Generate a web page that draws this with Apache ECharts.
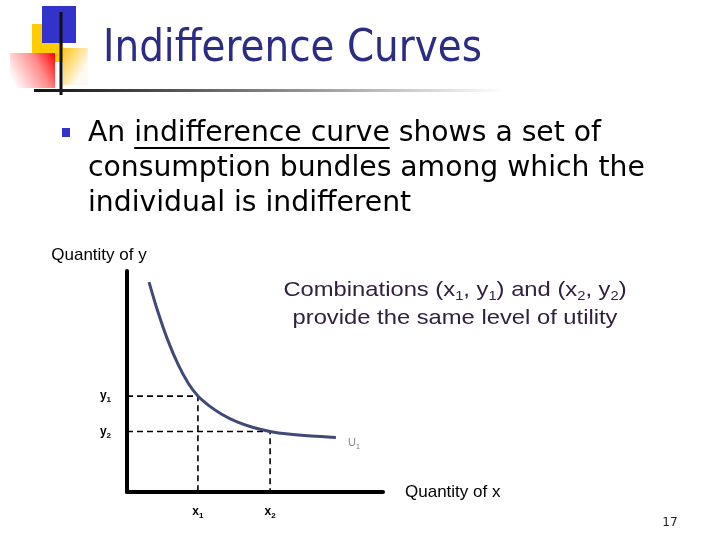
<!DOCTYPE html>
<html lang="en">
  <head>
    <meta charset="UTF-8" />
    <title>Indifference Curves</title>
    <script src="https://cdn.jsdelivr.net/npm/echarts@6.0.0/dist/echarts.min.js"></script>
    <style>
      body { margin: 0; background: #fff; }
    </style>
  </head>

  <body>
    <div id="main" style="width: 720px; height: 540px"></div>

    <script type="text/javascript">
      // points read along the indifference curve U1
      const curveX = [0.86, 1.2, 1.6, 2.0, 2.4, 2.77, 3.2, 3.7, 4.3, 4.9, 5.59, 6.3, 7.2, 8.16];
      const curveY = [9.5, 8.18, 6.85, 5.76, 4.91, 4.34, 3.91, 3.52, 3.17, 2.93, 2.74, 2.62, 2.53, 2.47];

      // the two bundles (x1, y1) and (x2, y2)
      const bundleX = [2.77, 5.59];
      const bundleY = [4.34, 2.74];
      const xTickLabels = ["x1", "x2"];
      const yTickLabels = ["y1", "y2"];

      const titleText = "Indifference Curves";
      const bulletLines = [
        "An indifference curve shows a set of",
        "consumption bundles among which the",
        "individual is indifferent",
      ];
      const noteLine2 = "provide the same level of utility";

      const FONT_T = '"DejaVu Sans", Verdana, sans-serif';
      const FONT_A = '"Liberation Sans", Arial, sans-serif';

      // measure text so the lines keep the slide's widths
      const ctx = document.createElement("canvas").getContext("2d");
      function textWidth(str, size, family) {
        ctx.font = size + "px " + family;
        return ctx.measureText(str).width;
      }
      const titleScale = 379 / textWidth(titleText, 44, FONT_T);
      const bulletScale = 513 / textWidth(bulletLines[0], 28, FONT_T);
      const noteScale = 325 / textWidth(noteLine2, 21, FONT_A);
      const ulStart = 88 + textWidth("An ", 28, FONT_T) * bulletScale;
      const ulEnd = ulStart + textWidth("indifference curve", 28, FONT_T) * bulletScale;

      // "x1" -> x with a subscript 1
      function subLabel(s) {
        return "{b|" + s.slice(0, -1) + "}{s|" + s.slice(-1) + "}";
      }
      const tickRich = {
        b: { fontSize: 12, fontWeight: "bold", fontFamily: FONT_A, color: "#000", lineHeight: 16 },
        s: { fontSize: 8, fontWeight: "bold", fontFamily: FONT_A, color: "#000", verticalAlign: "bottom", lineHeight: 8 },
      };

      const myChart = echarts.init(document.getElementById("main"));

      const dashed = bundleX.map((bx, i) => ({
        type: "line",
        data: [[0, bundleY[i]], [bx, bundleY[i]], [bx, 0]],
        symbol: "none",
        silent: true,
        z: 1,
        lineStyle: { color: "#000", width: 1.6, type: [6, 4] },
      }));

      const options = {
        animation: false,
        backgroundColor: "#fff",
        grid: { left: 127, top: 271, right: 337, bottom: 48 },
        xAxis: {
          type: "value",
          min: 0,
          max: 10,
          name: "Quantity of x",
          nameLocation: "end",
          nameGap: 22,
          nameTextStyle: { fontSize: 17, fontFamily: FONT_A, color: "#000" },
          axisLine: { show: true, lineStyle: { color: "#000", width: 4 } },
          axisTick: { show: false },
          splitLine: { show: false },
          axisLabel: {
            customValues: bundleX,
            margin: 12,
            formatter: (v) => subLabel(xTickLabels[bundleX.indexOf(v)] || ""),
            rich: tickRich,
          },
        },
        yAxis: {
          type: "value",
          min: 0,
          max: 10,
          name: "Quantity of y",
          nameLocation: "end",
          nameGap: 7,
          nameTextStyle: { fontSize: 17, fontFamily: FONT_A, color: "#000", padding: [0, 56, 0, 0] },
          axisLine: { show: true, lineStyle: { color: "#000", width: 4 } },
          axisTick: { show: false },
          splitLine: { show: false },
          axisLabel: {
            customValues: bundleY,
            margin: 16,
            formatter: (v) => subLabel(yTickLabels[bundleY.indexOf(v)] || ""),
            rich: tickRich,
          },
        },
        series: [
          ...dashed,
          {
            name: "U1",
            type: "line",
            data: curveX.map((x, i) => [x, curveY[i]]),
            smooth: 0.3,
            symbol: "none",
            z: 3,
            lineStyle: { color: "#3f4a78", width: 3 },
            endLabel: {
              show: true,
              distance: 12,
              offset: [0, 6],
              formatter: "{u|U}{s|1}",
              rich: {
                u: { fontSize: 11, color: "#8a8a8a", fontFamily: FONT_A, lineHeight: 15 },
                s: { fontSize: 8, color: "#8a8a8a", fontFamily: FONT_A, verticalAlign: "bottom", lineHeight: 8 },
              },
            },
          },
        ],
        graphic: [
          // slide decoration in the top-left corner
          { type: "rect", shape: { x: 32, y: 24, width: 31, height: 38 }, style: { fill: "#ffcc00" } },
          {
            type: "rect",
            shape: { x: 63, y: 48, width: 25, height: 37 },
            style: {
              fill: new echarts.graphic.LinearGradient(0, 0, 1, 0.4, [
                { offset: 0, color: "#ffc21a" },
                { offset: 0.5, color: "#ffdf80" },
                { offset: 1, color: "#fffaf0" },
              ]),
            },
          },
          { type: "rect", shape: { x: 42, y: 6, width: 34, height: 37 }, style: { fill: "#3333cc" } },
          {
            type: "rect",
            shape: { x: 10, y: 53, width: 45, height: 35 },
            style: {
              fill: new echarts.graphic.LinearGradient(1, 0, 0, 0.7, [
                { offset: 0, color: "#ff0000" },
                { offset: 0.4, color: "#ff8a8a" },
                { offset: 1, color: "#ffffff" },
              ]),
            },
          },
          { type: "rect", shape: { x: 59.5, y: 12, width: 3, height: 83 }, style: { fill: "#111" } },
          {
            type: "rect",
            shape: { x: 34, y: 89, width: 470, height: 3 },
            style: {
              fill: new echarts.graphic.LinearGradient(0, 0, 1, 0, [
                { offset: 0, color: "#111" },
                { offset: 0.6, color: "#9a9a9a" },
                { offset: 1, color: "#ffffff" },
              ]),
            },
          },
          // title
          {
            type: "text",
            x: 103,
            y: 50,
            scaleX: titleScale,
            style: {
              text: titleText,
              fontSize: 44,
              fontFamily: FONT_T,
              fill: "#2c2c85",
              align: "left",
              verticalAlign: "middle",
            },
          },
          // bullet
          { type: "rect", shape: { x: 62, y: 128, width: 8, height: 9 }, style: { fill: "#3333cc" } },
          ...bulletLines.map((line, i) => ({
            type: "text",
            x: 88,
            y: 134 + i * 35,
            scaleX: bulletScale,
            style: {
              text: line,
              fontSize: 28,
              fontFamily: FONT_T,
              fill: "#000",
              align: "left",
              verticalAlign: "middle",
            },
          })),
          { type: "rect", shape: { x: ulStart, y: 147, width: ulEnd - ulStart, height: 2 }, style: { fill: "#000" } },
          // note on the chart
          {
            type: "text",
            x: 455,
            y: 290,
            scaleX: noteScale,
            style: {
              text: "{n|Combinations (x}{s|1}{n|, y}{s|1}{n|) and (x}{s|2}{n|, y}{s|2}{n|)}",
              align: "center",
              verticalAlign: "middle",
              rich: {
                n: { fontSize: 21, fontFamily: FONT_A, fill: "#33203f", lineHeight: 26 },
                s: { fontSize: 13, fontFamily: FONT_A, fill: "#33203f", verticalAlign: "bottom", lineHeight: 13 },
              },
            },
          },
          {
            type: "text",
            x: 455,
            y: 318,
            scaleX: noteScale,
            style: {
              text: noteLine2,
              fontSize: 21,
              fontFamily: FONT_A,
              fill: "#33203f",
              align: "center",
              verticalAlign: "middle",
            },
          },
          // slide number
          {
            type: "text",
            x: 670,
            y: 523,
            style: { text: "17", fontSize: 12, fontFamily: FONT_T, fill: "#222", align: "center", verticalAlign: "middle" },
          },
        ],
      };

      myChart.setOption(options);
    </script>
  </body>
</html>
